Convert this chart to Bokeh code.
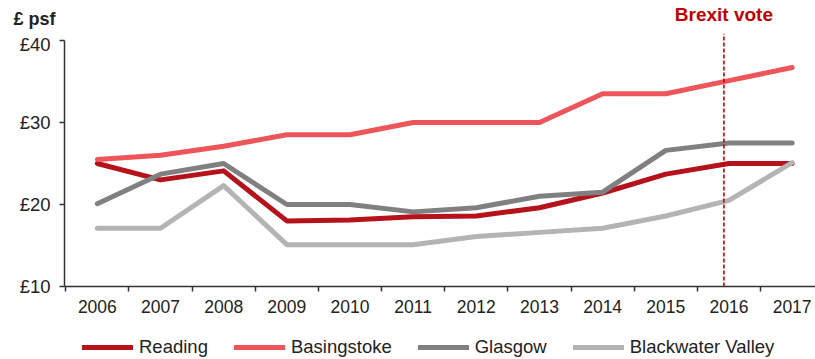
from bokeh.plotting import figure
from bokeh.layouts import column
from bokeh.models import Range1d, FixedTicker, Legend, LegendItem
from bokeh.core.properties import value
from bokeh.embed import file_html
from bokeh.resources import INLINE

# Office rents, £ per sq ft
years = list(range(2006, 2018))
reading = [25.0, 23.0, 24.1, 18.0, 18.1, 18.5, 18.6, 19.6, 21.4, 23.7, 25.0, 25.0]
basingstoke = [25.5, 26.0, 27.1, 28.5, 28.5, 30.0, 30.0, 30.0, 33.5, 33.5, 35.1, 36.7]
glasgow = [20.1, 23.7, 25.0, 20.0, 20.0, 19.1, 19.6, 21.0, 21.5, 26.6, 27.5, 27.5]
blackwater = [17.1, 17.1, 22.3, 15.1, 15.1, 15.1, 16.1, 16.6, 17.1, 18.6, 20.5, 25.1]

series_names = ["Reading", "Basingstoke", "Glasgow", "Blackwater Valley"]
series_colors = ["#B5121B", "#EE555A", "#808080", "#B4B4B4"]

y_ticks = [10, 20, 30, 40]
y_tick_labels = ["£10", "£20", "£30", "£40"]

brexit_year = 2015.92
brexit_text = "Brexit vote"
unit_text = "£ psf"

FONT = "Liberation Sans"
AXIS_COL = "#333333"
TEXT_COL = "#222222"
W = 815
HEAD_H, MAIN_H, LEG_H = 33, 300, 26
X_START, X_END = 2005.48, 2017.37


def bare(fig):
    fig.outline_line_color = None
    fig.xgrid.visible = False
    fig.ygrid.visible = False
    fig.background_fill_color = "white"
    fig.border_fill_color = "white"
    return fig


# main chart
p = bare(figure(
    width=W, height=MAIN_H,
    output_backend="svg", toolbar_location=None,
    x_range=Range1d(X_START, X_END),
    y_range=Range1d(10, 40.85),
    min_border_left=64, min_border_right=0, min_border_top=0,
    min_border_bottom=MAIN_H - 253,
))

for ys, c in zip([reading, basingstoke, glasgow, blackwater], series_colors):
    p.line(years, ys, line_color=c, line_width=5, line_cap="round", line_join="round")

# referendum marker
p.segment(x0=[brexit_year], y0=[10], x1=[brexit_year], y1=[40.85],
          line_color="#C80000", line_width=1.6, line_dash="4 2")

xa = p.xaxis[0]
xa.ticker = FixedTicker(ticks=years, minor_ticks=[y + 0.5 for y in range(2005, 2017)])
xa.major_tick_out = 0
xa.major_tick_in = 0
xa.minor_tick_out = 5
xa.minor_tick_in = 0
xa.minor_tick_line_color = AXIS_COL
xa.minor_tick_line_width = 1.5
xa.axis_line_color = AXIS_COL
xa.axis_line_width = 1.5
xa.major_label_standoff = 8
xa.major_label_text_font = FONT
xa.major_label_text_font_size = "17.5px"
xa.major_label_text_color = TEXT_COL

ya = p.yaxis[0]
ya.bounds = (10, 40)
ya.ticker = FixedTicker(ticks=y_ticks, minor_ticks=[])
ya.major_label_overrides = {t: l for t, l in zip(y_ticks, y_tick_labels)}
ya.major_tick_out = 5
ya.major_tick_in = 0
ya.major_tick_line_color = AXIS_COL
ya.major_tick_line_width = 1.5
ya.axis_line_color = AXIS_COL
ya.axis_line_width = 1.5
ya.major_label_standoff = 9
ya.major_label_text_font = FONT
ya.major_label_text_font_size = "18.5px"
ya.major_label_text_color = TEXT_COL

# header strip: unit caption sits in the left margin as a lone axis label,
# referendum caption sits above the marker line
head = bare(figure(
    width=W, height=HEAD_H, output_backend="svg", toolbar_location=None,
    x_range=Range1d(X_START, X_END), y_range=Range1d(0, 1),
    x_axis_location=None, y_axis_location="left",
    min_border=0, min_border_left=64,
))
hy = head.yaxis[0]
hy.ticker = FixedTicker(ticks=[0.43], minor_ticks=[])
hy.major_label_overrides = {0.43: unit_text}
hy.axis_line_color = None
hy.major_tick_line_color = None
hy.major_tick_out = 0
hy.major_tick_in = 0
hy.major_label_standoff = 9
hy.major_label_text_font = FONT
hy.major_label_text_font_size = "18px"
hy.major_label_text_font_style = "bold"
hy.major_label_text_color = TEXT_COL

head.text(x=[brexit_year], y=[0.58], text=[brexit_text],
          text_color="#C00000", text_font=value(FONT), text_font_size="19px",
          text_font_style="bold", text_align="center", text_baseline="middle")

# legend strip; its line renderers carry no points and only supply the swatches
leg = bare(figure(
    width=W, height=LEG_H, output_backend="svg", toolbar_location=None,
    x_range=Range1d(0, 1), y_range=Range1d(0, 1),
    x_axis_location=None, y_axis_location=None,
    min_border=0, min_border_left=64,
))
items = []
nan = float("nan")
for n, c in zip(series_names, series_colors):
    r = leg.line([nan], [nan], line_color=c, line_width=5, line_cap="round")
    items.append(LegendItem(label=n, renderers=[r]))
legend = Legend(
    items=items, orientation="horizontal", location=(18, 1),
    glyph_width=51, glyph_height=20, label_height=20, label_standoff=6, spacing=26,
    padding=0, margin=0, border_line_color=None, background_fill_alpha=0,
    label_text_font=FONT, label_text_font_size="18.5px", label_text_color=TEXT_COL,
)
leg.add_layout(legend, "center")

layout = column(head, p, leg, spacing=0)
open("out.html", "w").write(file_html(layout, INLINE))
